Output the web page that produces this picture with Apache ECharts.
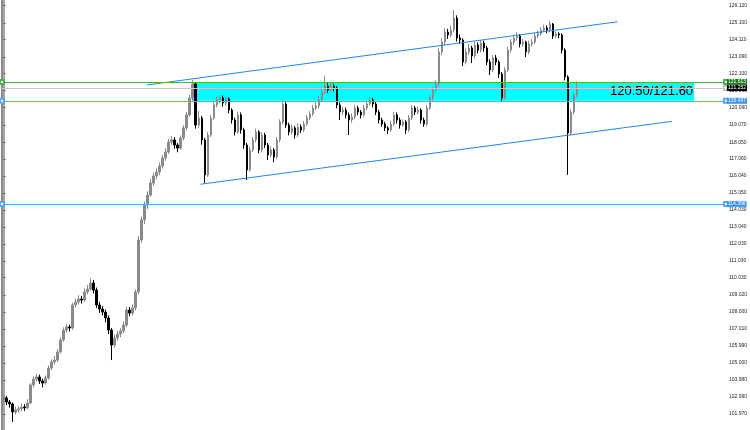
<!DOCTYPE html>
<html><head><meta charset="utf-8">
<script src="https://cdn.jsdelivr.net/npm/echarts@6/dist/echarts.min.js"></script>
<style>html,body{margin:0;padding:0;background:#fff}#c{width:750px;height:430px}</style>
</head><body><div id="c"></div>
<script>
// ---- data ----
const opens = [
102.80,102.92,102.68,102.56,102.09,102.21,102.27,102.38,102.33,102.62,
103.69,104.04,104.16,103.92,103.80,104.10,104.69,105.05,105.16,105.64,
106.35,106.94,107.12,107.06,108.42,108.60,108.77,108.71,109.19,109.36,
109.72,109.30,108.42,108.18,108.00,107.65,106.94,106.05,106.47,106.70,
106.88,107.23,108.12,107.94,108.24,109.19,112.26,113.45,114.33,114.92,
115.63,116.05,116.28,116.64,117.11,117.47,118.06,118.18,117.88,117.70,
118.29,118.89,119.66,120.66,121.49,119.06,119.48,118.18,116.11,118.47,
119.48,120.25,120.54,120.66,120.37,120.60,119.95,119.36,118.65,119.66,
118.77,117.88,116.40,117.59,118.18,118.65,117.59,118.47,117.88,117.29,
117.59,117.17,118.18,119.24,120.31,119.06,118.65,118.89,118.47,118.95,
118.77,119.12,119.48,119.71,120.07,120.19,120.54,121.02,121.37,121.13,
121.37,121.25,120.25,119.83,119.95,119.66,119.36,119.54,120.07,119.83,
119.66,120.07,120.31,120.54,120.31,119.83,119.36,119.12,118.89,118.77,
119.12,119.66,119.36,119.06,119.24,118.77,119.48,120.07,119.83,119.95,
119.36,119.12,120.07,120.66,121.13,121.49,123.38,123.97,124.56,124.39,
124.68,125.39,124.21,124.09,122.79,123.38,123.62,123.15,123.80,123.50,
123.91,123.62,122.79,122.32,123.03,122.79,122.08,120.66,122.32,123.50,
123.97,124.21,124.33,123.86,123.97,123.38,123.86,123.97,124.33,124.45,
124.68,124.80,124.68,125.04,124.33,124.45,124.39,123.50,121.90,118.59,
119.83,120.84];
const closes = [
102.92,102.68,102.56,102.09,102.21,102.27,102.38,102.33,102.62,103.69,
104.04,104.16,103.92,103.80,104.10,104.69,105.05,105.16,105.64,106.35,
106.94,107.12,107.06,108.42,108.60,108.77,108.71,109.19,109.36,109.72,
109.30,108.42,108.18,108.00,107.65,106.94,106.05,106.47,106.70,106.88,
107.23,108.12,107.94,108.24,109.19,112.26,113.45,114.33,114.92,115.63,
116.05,116.28,116.64,117.11,117.47,118.06,118.18,117.88,117.70,118.29,
118.89,119.66,120.66,121.49,119.06,119.48,118.18,116.11,118.47,119.48,
120.25,120.54,120.66,120.37,120.60,119.95,119.36,118.65,119.66,118.77,
117.88,116.40,117.59,118.18,118.65,117.59,118.47,117.88,117.29,117.59,
117.17,118.18,119.24,120.31,119.06,118.65,118.89,118.47,118.95,118.77,
119.12,119.48,119.71,120.07,120.19,120.54,121.02,121.37,121.13,121.37,
121.25,120.25,119.83,119.95,119.66,119.36,119.54,120.07,119.83,119.66,
120.07,120.31,120.54,120.31,119.83,119.36,119.12,118.89,118.77,119.12,
119.66,119.36,119.06,119.24,118.77,119.48,120.07,119.83,119.95,119.36,
119.12,120.07,120.66,121.13,121.49,123.38,123.97,124.56,124.39,124.68,
125.39,124.21,124.09,122.79,123.38,123.62,123.15,123.80,123.50,123.91,
123.62,122.79,122.32,123.03,122.79,122.08,120.66,122.32,123.50,123.97,
124.21,124.33,123.86,123.97,123.38,123.86,123.97,124.33,124.45,124.68,
124.80,124.68,125.04,124.33,124.45,124.39,123.50,121.90,118.59,119.83,
120.84,121.25];
const lows = [
102.60,102.50,102.35,101.50,101.95,102.05,102.15,102.15,102.25,102.55,
103.55,103.90,103.75,103.55,103.70,104.00,104.55,104.90,105.05,105.55,
106.25,106.80,106.85,106.95,108.25,108.45,108.50,108.60,109.05,109.25,
109.10,108.25,107.95,107.80,107.40,106.70,105.16,105.90,106.30,106.50,
106.75,107.10,107.75,107.80,108.10,109.05,112.10,113.20,114.10,114.80,
115.45,115.85,116.10,116.50,116.95,117.35,117.90,117.65,117.45,117.60,
118.15,118.75,119.55,120.50,118.85,118.90,117.90,115.63,116.00,118.35,
119.35,120.10,120.35,120.15,120.20,119.75,119.15,118.45,118.55,118.55,
117.65,115.81,116.30,117.45,118.05,117.40,117.45,117.70,116.99,117.15,
116.87,117.05,118.05,119.10,118.90,118.45,118.50,118.25,118.35,118.60,
118.65,119.00,119.35,119.60,119.95,120.05,120.40,120.90,120.95,121.00,
121.05,120.05,119.36,119.65,119.45,118.47,119.20,119.40,119.65,119.45,
119.55,119.95,120.20,120.10,119.65,119.15,118.95,118.70,118.53,118.65,
119.00,119.15,118.85,118.95,118.53,118.65,119.35,119.65,119.70,119.15,
118.95,119.00,119.95,120.50,121.00,121.35,123.20,123.80,124.15,124.25,
124.55,124.00,123.85,122.55,122.65,123.20,122.73,123.00,123.30,123.35,
123.40,122.60,122.02,122.20,122.60,121.85,120.42,120.55,122.20,123.35,
123.80,124.05,123.65,123.70,123.09,123.25,123.70,123.85,124.20,124.35,
124.55,124.50,124.55,124.15,124.20,124.20,123.30,121.70,116.11,118.45,
119.70,120.70];
const highs = [
103.10,103.05,102.80,102.65,102.40,102.45,102.60,102.55,102.85,103.80,
104.20,104.35,104.30,104.05,104.25,104.85,105.20,105.40,105.80,106.50,
107.10,107.30,107.25,108.55,108.80,109.00,108.95,109.40,109.60,110.00,
109.90,109.45,108.60,108.35,108.15,107.80,107.05,106.65,106.90,107.05,
107.45,108.30,108.30,108.45,109.35,112.50,113.65,114.55,115.15,115.85,
116.25,116.50,116.85,117.30,117.70,118.25,118.40,118.35,118.00,118.45,
119.05,119.85,120.85,121.73,121.60,119.90,119.60,118.30,118.65,119.65,
120.40,120.75,120.85,120.80,120.80,120.70,120.05,119.50,119.85,119.80,
118.90,118.00,117.80,118.35,118.85,118.75,118.65,118.60,118.00,117.80,
117.70,118.35,119.40,120.50,120.45,119.20,119.10,119.00,119.15,119.10,
119.30,119.65,119.90,120.25,120.40,120.75,121.20,121.96,121.55,121.55,
121.50,121.35,120.40,120.15,120.10,119.80,119.75,120.25,120.20,119.95,
120.25,120.50,120.72,120.65,120.45,119.95,119.50,119.25,119.00,119.30,
119.85,119.80,119.50,119.40,119.35,119.65,120.25,120.20,120.15,120.05,
119.50,120.25,120.85,121.30,121.70,123.60,124.20,124.80,124.75,124.95,
125.87,125.55,124.40,124.20,123.60,123.85,123.75,124.00,123.95,124.10,
124.05,123.75,122.95,123.20,123.20,122.90,122.20,122.50,123.70,124.15,
124.40,124.55,124.45,124.15,124.05,124.05,124.15,124.50,124.65,124.85,
125.00,124.95,125.22,125.10,124.60,124.55,124.50,123.60,122.00,120.00,
121.00,121.65];
const slotCount = 241;               // bar slots incl. empty right margin
const priceTicks = [126.120,125.100,124.110,123.090,122.100,121.090,120.090,119.070,118.050,117.060,116.040,115.050,114.030,113.040,112.030,111.030,110.030,109.020,108.000,107.010,105.990,105.000,103.980,102.990,101.970];
const priceMin = 101.024, priceMax = 126.457;
const levelGreen = 121.613;
const levelBid = 121.252;
const levelBlue = [120.497, 114.398];
const upperTrend = [[47.7,121.43],[204.4,125.17]];
const lowerTrend = [[65.6,115.56],[222.5,119.28]];
const zonePrices = [120.50, 121.60];
const zoneBars = [63.0, 229.9];
const zoneText = '120.50/121.60';

// ---- chart ----
const categories = Array.from({length: slotCount}, (_, i) => String(i + 1));
const candles = opens.map((o, i) => [o, closes[i], lows[i], highs[i]]);
const blueC = '#5aa9f5', greenC = '#4cb050', trendC = '#1e88f0';
const lblBase = {position: 'end', distance: 1, color: '#fff', fontSize: 5, fontFamily: 'Liberation Sans', padding: [1, 1, 0, 1], formatter: p => p.value.toFixed(3)};

const chart = echarts.init(document.getElementById('c'), null, {renderer: 'canvas'});
chart.setOption({
  animation: false,
  backgroundColor: '#fff',
  grid: {left: 2, right: 23, top: 0, bottom: 0},
  xAxis: [
    {type: 'category', data: categories, boundaryGap: true, show: false},
    {type: 'value', min: -0.5, max: slotCount - 0.5, show: false}
  ],
  yAxis: [
    {type: 'value', position: 'right', min: priceMin, max: priceMax, scale: true,
     splitLine: {show: false},
     axisLine: {show: true, lineStyle: {color: '#a8a8a8', width: 2}},
     axisTick: {show: true, length: 2, customValues: priceTicks, lineStyle: {color: '#555'}},
     axisLabel: {show: true, customValues: priceTicks, margin: 3, fontSize: 5, color: '#222', fontFamily: 'Liberation Sans', formatter: v => v.toFixed(3)}},
    {type: 'value', position: 'left', min: priceMin, max: priceMax, scale: true,
     splitLine: {show: false}, axisTick: {show: false}, axisLabel: {show: false},
     axisLine: {show: true, lineStyle: {color: '#8a8a8a', width: 2}}}
  ],
  series: [
    {type: 'line', xAxisIndex: 1, yAxisIndex: 0, z: 1, silent: true,
     data: [[zoneBars[0], zonePrices[0]]], symbol: 'none', lineStyle: {opacity: 0},
     markArea: {silent: true,
       itemStyle: {color: '#00ffff', opacity: 1},
       label: {show: true, position: 'insideRight', distance: 1, color: '#000', fontSize: 13, fontFamily: 'Liberation Sans', formatter: zoneText},
       data: [[{coord: [zoneBars[0], zonePrices[1]]}, {coord: [zoneBars[1], zonePrices[0]]}]]}},
    {type: 'candlestick', xAxisIndex: 0, yAxisIndex: 0, z: 3, data: candles, barWidth: 2,
     itemStyle: {color: '#8a8a8a', color0: '#000', borderColor: '#8a8a8a', borderColor0: '#000', borderWidth: 1},
     markLine: {silent: true, symbol: ['emptyRect', 'emptyRect'], symbolSize: 4, precision: 3,
       data: [
         {yAxis: levelBid, symbol: 'none', lineStyle: {color: '#c8c8c8', width: 1, type: 'solid'}, label: Object.assign({}, lblBase, {backgroundColor: '#000'})},
         {yAxis: levelGreen, lineStyle: {color: greenC, width: 1, type: 'solid'}, label: Object.assign({}, lblBase, {backgroundColor: '#1f7a1f'})},
         {yAxis: levelBlue[0], lineStyle: {color: blueC, width: 1, type: 'solid'}, label: Object.assign({}, lblBase, {backgroundColor: '#3a94f0'})},
         {yAxis: levelBlue[1], lineStyle: {color: blueC, width: 1, type: 'solid'}, label: Object.assign({}, lblBase, {backgroundColor: '#3a94f0'})}
       ]}},
    {type: 'line', xAxisIndex: 1, yAxisIndex: 0, z: 4, silent: true, data: upperTrend, symbol: 'none', lineStyle: {color: trendC, width: 1}},
    {type: 'line', xAxisIndex: 1, yAxisIndex: 0, z: 4, silent: true, data: lowerTrend, symbol: 'none', lineStyle: {color: trendC, width: 1}}
  ]
});
</script></body></html>
